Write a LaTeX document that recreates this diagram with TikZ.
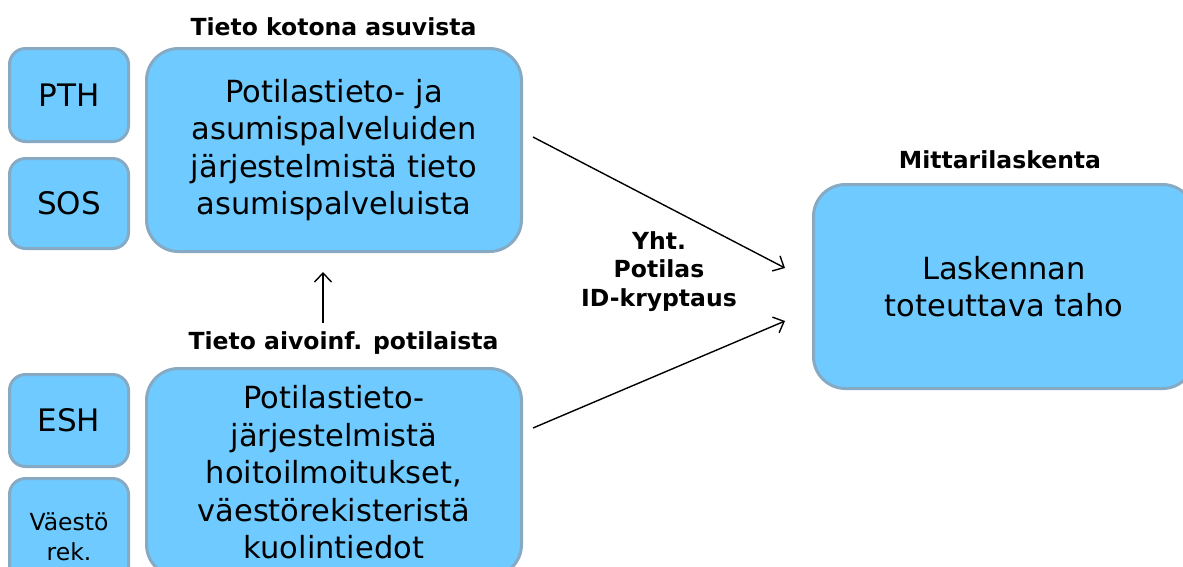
\documentclass[tikz,border=0pt]{standalone}
\usepackage{fontspec}
\setmainfont{DejaVu Sans}
\usetikzlibrary{arrows.meta}
\definecolor{boxfill}{HTML}{6FCBFF}
\definecolor{boxedge}{HTML}{86A9C4}
\tikzset{
  smallbox/.style={draw=boxedge, fill=boxfill, line width=3pt, rounded corners=16pt,
    minimum width=119pt, inner sep=0pt, align=center,
    font=\fontsize{31}{37.5}\selectfont},
  bigbox/.style={draw=boxedge, fill=boxfill, line width=3pt, rounded corners=32pt,
    inner sep=0pt, align=center, font=\fontsize{30.5}{37.5}\selectfont},
  headlabel/.style={font=\bfseries\fontsize{23.5}{28.5}\selectfont, align=center, inner sep=0pt},
  flow/.style={line width=1.4pt, -{Straight Barb[length=9pt,width=17pt,line width=1.4pt]}}
}
\begin{document}
\begin{tikzpicture}[x=1pt,y=-1pt]
\useasboundingbox (0,0) rectangle (1183,566);
% left small boxes
\node[smallbox, minimum height=93pt] (pth) at (69,95) {PTH};
\node[smallbox, minimum height=90pt] (sos) at (69,203.5) {SOS};
\node[smallbox, minimum height=92pt] (esh) at (69,420.5) {ESH};
\node[smallbox, minimum height=117pt, font=\fontsize{23.5}{29.5}\selectfont] (vrek) at (69,537) {Väestö\\rek.};
% big boxes
\node[bigbox, minimum width=375pt, minimum height=203pt] (top) at (334,150)
  {Potilastieto- ja\\asumispalveluiden\\järjestelmistä tieto\\asumispalveluista};
\node[bigbox, minimum width=375pt, minimum height=208pt] (bot) at (334,472.5)
  {Potilastieto-\\järjestelmistä\\hoitoilmoitukset,\\väestörekisteristä\\kuolintiedot};
\node[bigbox, minimum width=381pt, minimum height=204pt] (calc) at (1004,286.5)
  {Laskennan\\toteuttava taho};
% headings
\node[headlabel] (h1) at (333.5,27) {Tieto kotona asuvista};
\node[headlabel] (h2) at (343.5,343) {Tieto aivoinf. potilaista};
\node[headlabel] (h3) at (1000,160) {Mittarilaskenta};
\node[headlabel] (mid) at (659,271.5) {Yht.\\Potilas\\ID-kryptaus};
% connectors
\draw[flow] ([xshift=-20.5pt,yshift=8pt]h2.north) -- ([xshift=-11pt,yshift=-19pt]top.south);
\draw[flow] ([xshift=10pt,yshift=13pt]top.east) -- ([xshift=-27pt,yshift=18.5pt]calc.west);
\draw[flow] ([xshift=10pt,yshift=44.5pt]bot.east) -- ([xshift=-27pt,yshift=-34.5pt]calc.west);
\end{tikzpicture}
\end{document}
